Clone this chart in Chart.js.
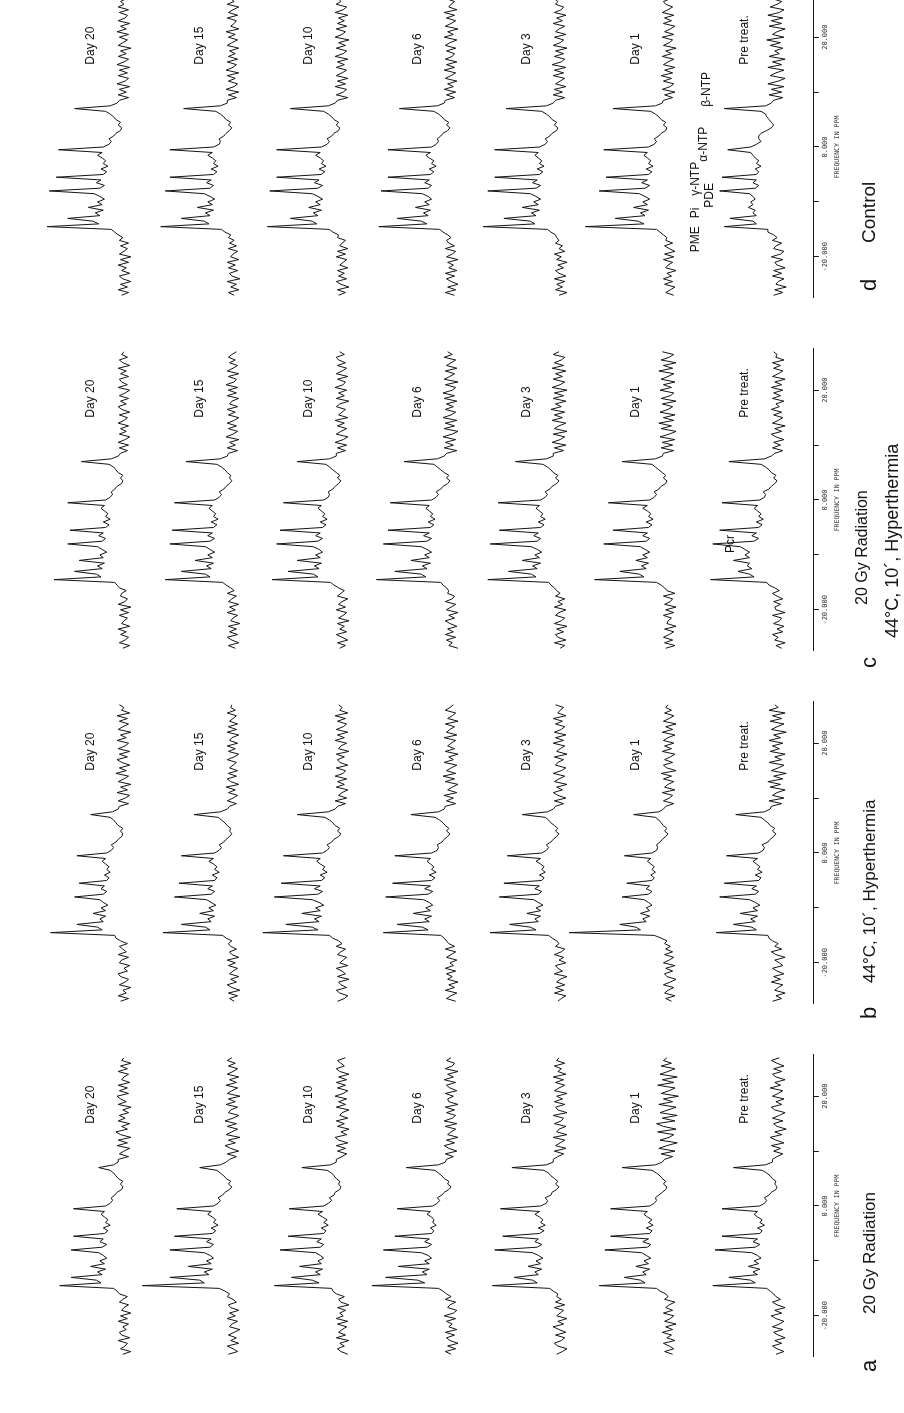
<!DOCTYPE html>
<html>
<head>
<meta charset="utf-8">
<title>31P spectra</title>
<script src="https://cdn.jsdelivr.net/npm/chart.js@4.4.1/dist/chart.umd.min.js"></script>
<style>
  html, body { margin: 0; padding: 0; background: #fff; width: 904px; height: 1413px; overflow: hidden; }
  /* the figure is laid out landscape and turned a quarter left, like the printed page */
  #sheet { position: absolute; left: 0; top: 0; width: 1413px; height: 904px;
           transform-origin: 0 0; transform: translate(0, 1413px) rotate(-90deg); }
  #sheet canvas { position: absolute; top: 0; }
</style>
</head>
<body>
<div id="sheet">
  <canvas id="panelA" width="360" height="904" style="left:27px"></canvas>
  <canvas id="panelB" width="360" height="904" style="left:380px"></canvas>
  <canvas id="panelC" width="360" height="904" style="left:733px"></canvas>
  <canvas id="panelD" width="360" height="904" style="left:1086px"></canvas>
</div>
<script>
// ── 31P MR spectra, four treatment groups, seven time points each ──────────
// Each spectrum: 24 baseline points (-27..-15.5), 47 points over the peaks
// (-15..8), 38 baseline points (8.5..27), all at 0.5 ppm.

const ppm = [-27,-26.5,-26,-25.5,-25,-24.5,-24,-23.5,-23,-22.5,-22,-21.5,-21,-20.5,-20,-19.5,-19,-18.5,-18,-17.5,-17,-16.5,-16,-15.5,
  -15,-14.5,-14,-13.5,-13,-12.5,-12,-11.5,-11,-10.5,-10,-9.5,-9,-8.5,-8,-7.5,-7,-6.5,-6,-5.5,-5,-4.5,-4,-3.5,-3,-2.5,-2,-1.5,-1,-0.5,
  0,0.5,1,1.5,2,2.5,3,3.5,4,4.5,5,5.5,6,6.5,7,7.5,8,
  8.5,9,9.5,10,10.5,11,11.5,12,12.5,13,13.5,14,14.5,15,15.5,16,16.5,17,17.5,18,18.5,19,19.5,20,20.5,21,21.5,22,22.5,23,23.5,24,24.5,25,25.5,26,26.5,27];
const tickValues = [-20, -10, 0, 10, 20];
const tickLabels = ['-20.000', '', '0.000', '', '20.000'];
const days = ['Pre treat.', 'Day 1', 'Day 3', 'Day 6', 'Day 10', 'Day 15', 'Day 20'];

// a — 20 Gy radiation
const aPre = [3,-4,2,6,-2,4,-5,1,5,-3,6,0,-4,3,7,-2,4,-5,2,6,-1,3,5,8,
  11,58,21,25,44,19,23,17,27,18,22,16,19,24,56,21,17,23,19,50,17,15,19,13,17,15,19,22,19,50,17,13,11,13,9,7,3,2,4,3,6,8,11,15,40,12,6,
  6,2,-3,5,-1,7,-4,3,8,-2,4,-6,2,5,-3,6,0,-5,4,7,-2,3,-4,6,1,-3,8,-1,4,-5,3,6,-2,5,-4,2,7,0];
const aDay1 = [-2,5,-3,1,6,-4,3,-1,7,-2,4,-5,5,0,-3,6,-2,4,1,-4,5,2,4,9,
  12,62,22,26,40,21,24,18,30,19,23,17,21,25,57,20,17,24,19,52,18,16,21,15,19,16,20,23,20,52,18,14,12,13,10,7,4,3,6,4,7,9,12,16,42,13,7,
  5,-2,8,-4,10,3,-6,9,1,-3,11,-5,6,12,-4,7,-6,9,2,-5,10,-2,6,-7,8,1,-4,11,-3,7,-6,9,2,-4,8,-1,6,3];
const aDay3 = [4,-1,-5,3,6,0,-3,5,-4,2,7,-2,3,-5,4,1,-2,6,-3,5,0,4,3,7,
  10,60,21,25,41,20,23,17,29,18,22,16,20,25,58,21,17,23,20,51,19,15,20,14,18,16,19,23,19,53,18,13,12,14,9,8,4,2,5,3,6,9,11,15,43,13,7,
  7,3,-2,6,-4,5,1,-3,7,-5,4,2,-4,6,0,-2,7,-5,3,5,-3,6,-1,4,-5,6,2,-3,5,-2,7,-4,3,0,6,-3,4,2];
const aDay6 = [1,6,-3,4,-5,2,5,-2,6,-4,3,0,5,-3,7,-1,-4,4,2,-3,6,1,5,8,
  12,70,24,30,58,22,26,20,47,20,24,18,21,27,60,22,18,24,20,50,18,16,19,14,17,16,18,22,19,48,17,13,11,13,9,7,3,1,4,3,7,9,12,15,40,12,6,
  5,-1,6,-4,3,7,-2,5,-5,4,1,-3,6,-4,7,0,-3,5,-2,6,-5,3,4,-1,6,-4,2,5,-3,7,-1,4,-5,6,0,-2,5,1];
const aDay10 = [-4,2,5,-1,3,-5,6,-2,4,1,-3,5,-4,6,0,3,-2,5,-5,2,4,-1,6,9,
  10,60,21,27,45,20,24,18,38,19,22,17,20,24,55,20,17,23,19,48,17,15,19,13,17,14,18,22,18,47,17,13,10,12,8,7,3,2,4,3,6,8,10,14,36,11,6,
  6,1,-3,5,-2,6,-4,4,7,-3,2,-5,5,-1,6,-4,3,1,-5,6,-2,4,-3,7,0,-4,5,-2,6,-3,4,-5,3,6,-1,2,5,-2];
const aDay15 = [5,-3,1,6,-4,3,-2,5,0,-5,4,2,-3,6,-1,4,-4,3,5,-2,1,6,4,8,
  13,80,26,30,56,22,26,19,40,20,24,18,21,26,56,21,18,24,20,52,19,16,20,14,18,16,19,23,20,50,18,14,12,14,10,8,4,2,5,3,7,9,12,15,30,12,7,
  4,-2,6,-4,3,8,-1,5,-5,7,2,-3,6,-2,8,1,-4,5,3,-3,7,-1,5,-5,6,2,-3,7,-2,4,-4,6,1,-3,5,-1,6,2];
const aDay20 = [2,-5,4,0,-2,6,-4,3,5,-1,2,-3,6,-2,4,-5,3,1,-3,5,2,-2,5,7,
  10,57,21,25,47,20,24,17,30,18,22,16,19,23,47,20,16,22,19,45,18,15,19,13,17,15,18,21,18,45,17,13,11,12,9,7,3,2,4,2,6,8,10,13,23,10,6,
  6,-3,5,1,-4,7,-2,6,-5,4,8,-2,3,-4,6,0,5,-3,2,-5,6,-1,4,7,-3,5,-2,6,-4,3,1,-3,6,-2,4,-5,3,1];

// b — 44 °C, 10 min hyperthermia
const bPre = [6,-2,3,-5,4,1,-3,7,-1,5,-4,2,6,-3,0,4,-5,3,7,-2,4,1,6,9,
  10,55,20,24,40,21,25,19,34,19,23,17,21,26,52,21,18,24,20,48,18,16,21,15,19,17,20,23,19,46,18,14,13,15,10,8,5,3,6,4,8,10,13,16,38,13,8,
  7,-2,9,-4,6,2,-5,8,-1,10,-3,5,-6,7,1,-4,9,-2,4,-5,8,0,6,-3,9,-1,5,-6,7,2,-4,8,-2,6,-5,9,1,4];
const bDay1 = [-1,4,-4,5,2,-3,6,0,-5,3,5,-2,4,-4,6,1,-3,5,-2,4,0,5,3,8,
  14,88,26,30,44,21,24,18,26,18,21,16,19,23,42,19,16,21,18,38,16,14,17,13,16,14,17,20,17,40,16,12,11,12,9,7,4,2,5,3,6,8,10,13,32,10,6,
  4,-3,6,1,-2,7,-4,5,2,-3,6,-1,8,-5,3,6,-2,5,0,-4,7,-1,5,-3,6,2,-4,7,-2,4,-5,6,1,-3,5,-1,4,2];
const bDay3 = [3,0,-4,6,-2,5,-3,4,1,-5,6,-1,3,5,-4,2,-2,6,0,-3,5,2,4,8,
  11,62,22,27,45,20,23,18,30,18,22,16,20,24,54,20,17,23,19,50,17,15,19,14,17,15,18,22,18,47,17,13,11,13,9,7,4,2,5,3,6,9,11,14,34,12,7,
  5,-2,6,-4,3,7,-1,4,-5,6,2,-3,7,0,-4,5,3,-2,6,-5,4,1,-3,7,-2,5,-4,6,0,-3,5,-1,7,-4,3,1,-2,5];
const bDay6 = [-3,5,1,-4,6,-2,3,-5,4,0,5,-3,6,-1,2,-4,5,1,-3,6,-2,3,5,7,
  10,60,21,26,48,20,24,18,34,19,23,17,20,25,58,21,17,24,19,52,18,15,20,14,18,16,19,22,19,50,18,13,12,13,9,7,4,2,5,3,6,8,11,15,36,12,7,
  6,-3,5,-1,7,-4,4,0,-5,6,-2,8,-3,5,1,-4,7,-1,3,-5,6,-2,4,1,-3,7,-4,5,2,-2,6,-5,4,0,-3,6,2,-1];
const bDay10 = [5,-1,-4,3,6,-3,2,4,-5,5,-2,1,6,-4,3,0,-3,5,2,-2,6,1,4,9,
  12,70,22,27,50,21,25,19,36,20,24,17,21,27,60,22,18,25,20,54,19,16,20,14,18,16,20,23,20,52,18,14,12,14,10,8,4,2,5,3,7,9,12,16,40,13,7,
  5,-2,7,-3,4,1,-4,6,-1,5,-3,7,0,-2,6,-4,3,5,-1,6,-5,4,2,-3,7,-1,5,-4,6,0,-3,5,-2,7,-4,3,1,4];
const bDay15 = [0,4,-3,5,-5,2,6,-2,3,-4,4,1,-3,5,-1,6,-4,2,4,-2,3,5,2,7,
  10,62,21,25,46,20,23,17,30,18,22,16,20,24,52,20,17,23,19,48,17,15,19,13,17,15,18,22,18,46,17,13,11,13,9,7,4,2,4,3,6,8,11,14,35,12,6,
  4,-2,6,1,-3,5,-1,7,-4,3,6,-2,5,-3,4,1,-2,6,0,-4,5,-1,6,-3,4,2,-4,6,-2,5,-3,4,1,-2,6,-1,3,2];
const bDay20 = [4,-3,6,-1,2,-5,5,0,-3,4,6,-2,1,-4,5,3,-3,6,-1,2,5,-2,4,8,
  9,65,20,24,42,19,22,17,28,17,21,15,19,22,44,19,16,21,18,40,16,14,18,13,16,14,17,20,17,42,16,12,10,12,8,6,3,2,4,2,6,8,10,13,30,11,6,
  5,-3,6,0,-4,7,-2,4,-5,6,1,-3,8,-1,5,-4,3,7,-2,5,-4,6,0,-3,7,-1,4,-5,6,2,-3,5,-2,7,-4,3,1,5];

// c — 20 Gy radiation + 44 °C, 10 min hyperthermia
const cPre = [-2,3,-5,4,1,6,-3,2,-4,5,0,-2,6,-5,3,4,-1,5,-3,2,6,0,4,9,
  11,60,22,26,36,24,28,26,40,26,30,26,30,34,58,22,18,24,20,52,18,15,20,14,18,16,19,22,19,50,17,13,12,14,9,7,4,2,5,3,7,9,12,16,44,13,7,
  4,-3,6,-1,5,-4,3,7,-2,4,-5,6,1,-3,5,-2,7,0,3,-4,6,-1,5,-3,7,-2,4,-5,6,1,-3,5,-1,6,-4,3,2,5];
const cDay1 = [4,-4,5,-2,6,1,-3,5,-5,3,2,-1,6,-3,4,-5,5,0,-2,6,-4,3,5,8,
  12,66,23,27,44,21,25,19,30,20,24,18,22,26,58,21,18,24,20,50,19,16,21,15,19,17,20,24,20,54,18,14,12,14,10,8,4,3,6,4,7,10,13,16,42,13,7,
  6,-3,8,-2,7,-4,9,1,-5,8,-1,10,-3,6,-4,9,2,-2,7,-5,8,0,-3,9,-1,6,-4,8,2,-3,10,-2,6,-5,8,1,-3,7];
const cDay3 = [1,-3,6,-4,3,5,-2,4,-5,6,0,-3,5,2,-4,6,-1,3,-3,5,1,4,6,9,
  11,64,22,26,46,21,25,18,34,19,23,17,21,26,62,21,18,24,20,54,18,15,20,14,18,16,19,22,19,55,18,14,12,14,10,8,4,2,5,3,7,9,12,16,40,13,7,
  7,-2,6,-4,8,1,-3,7,-5,6,2,-4,8,-1,6,-3,9,0,5,-4,7,-2,6,-5,8,1,-3,7,-1,5,-4,8,-2,6,0,-3,7,2];
const cDay6 = [-5,3,0,5,-3,6,-1,4,-4,2,6,-2,3,-5,5,1,-3,6,0,-2,4,3,5,8,
  10,66,23,27,50,22,26,19,36,20,24,18,22,27,60,22,18,25,20,56,19,16,21,15,19,17,20,23,20,54,18,14,12,14,10,8,4,2,5,3,7,10,13,16,42,13,7,
  5,-4,7,-1,6,-3,8,0,-5,7,-2,6,-4,8,1,-3,6,-1,5,-4,7,-2,8,0,-3,6,-5,7,2,-2,6,-4,5,1,-3,7,0,4];
const cDay10 = [3,-2,5,-4,1,6,-3,3,-1,5,-5,4,0,-3,6,-2,4,1,-4,5,2,-1,4,8,
  11,62,22,26,48,21,25,19,40,20,24,18,21,26,58,22,18,24,20,55,18,15,20,14,18,16,19,22,19,52,17,13,12,13,9,7,4,2,5,3,6,9,12,15,40,12,6,
  6,-2,5,-3,7,0,-4,6,2,-3,5,-1,7,-4,4,1,-2,6,3,-5,6,-1,4,-3,7,0,-2,5,-4,6,1,-3,5,-2,4,6,-1,3];
const cDay15 = [-1,5,-4,2,6,-3,4,-2,5,-5,3,1,-3,6,-1,4,-4,5,2,-2,6,0,3,7,
  10,60,21,25,46,20,24,18,34,19,23,17,21,25,56,21,17,23,19,54,18,15,20,14,18,16,19,22,19,52,17,13,11,13,9,7,4,2,4,3,6,8,11,15,42,12,6,
  5,-3,6,-1,4,-4,7,1,-3,5,-2,6,0,-4,5,-1,6,-3,4,2,-4,6,-2,5,-3,7,0,-2,5,-4,6,1,-3,4,-1,5,2,-2];
const cDay20 = [2,-4,5,0,-3,4,-1,6,-4,3,1,-2,5,-3,4,-5,6,0,-2,4,3,-1,5,7,
  9,62,21,25,44,20,24,18,40,19,22,16,20,24,50,20,17,23,19,48,17,14,19,13,17,15,18,21,18,50,17,13,11,12,9,7,3,2,4,2,6,8,10,14,38,12,6,
  4,-2,5,-3,6,0,-4,5,-1,4,-3,6,1,-2,5,-4,3,6,-1,4,-3,5,0,-4,6,-2,3,5,-3,4,-1,6,-4,2,5,-2,3,1];

// d — control
const dPre = [5,-3,4,-6,3,1,-4,6,-2,5,-5,2,4,-3,7,-1,-4,5,3,-2,6,2,5,10,
  10,48,20,23,43,20,23,21,27,23,25,21,23,26,52,21,18,23,20,50,20,18,21,16,20,18,21,23,25,45,25,20,16,18,18,16,11,7,5,7,9,11,12,16,48,12,7,
  5,-3,9,-2,7,-4,10,1,-5,8,3,-4,10,-2,6,-5,9,0,4,-3,8,-1,11,-4,6,2,-5,9,-2,7,-3,10,0,-4,8,2,-2,6];
const dDay1 = [-3,4,0,-4,5,-2,6,-1,3,-5,4,2,-2,6,-3,5,-4,1,5,-2,4,3,6,9,
  12,74,23,28,48,22,26,19,32,20,24,18,22,27,62,22,18,25,20,56,19,16,21,15,19,17,20,23,20,58,19,14,12,14,10,8,4,3,6,4,8,10,13,17,50,13,7,
  6,-2,5,-4,7,0,-3,6,-1,8,-2,5,-4,6,2,-3,7,-1,4,-5,6,1,-2,7,-3,5,0,-4,6,-1,5,-3,7,2,-2,4,6,0];
const dDay3 = [2,-5,5,-1,4,-3,6,-4,2,5,-2,3,-5,4,0,6,-3,2,-1,5,2,4,5,9,
  12,68,23,27,50,22,26,19,34,20,24,18,22,27,64,22,18,25,21,58,19,16,21,15,19,17,20,23,20,58,19,14,12,14,10,8,4,3,6,4,8,10,13,17,48,13,7,
  5,-3,7,-1,6,-4,5,1,-3,7,-2,6,-4,8,0,-3,6,-2,5,-5,7,1,-2,6,-4,5,2,-3,7,-1,4,-4,6,0,-2,5,3,6];
const dDay6 = [-2,6,-3,4,-5,1,5,-2,6,-4,3,-1,4,-5,5,0,-3,6,-2,3,5,1,4,8,
  11,64,22,27,48,21,25,19,32,20,24,18,21,26,62,21,18,24,20,56,19,16,20,14,18,16,20,23,19,56,18,14,12,13,10,8,4,2,5,3,7,9,12,16,46,13,7,
  6,-2,5,-3,7,-1,4,-4,6,1,-3,7,-2,5,-4,6,0,-2,5,-3,6,2,-4,7,-1,4,-5,6,1,-3,5,-2,7,-4,3,1,-2,5];
const dDay10 = [4,-2,5,-5,2,6,-3,4,-1,5,-4,3,0,-3,6,-2,5,-4,3,1,-2,5,4,9,
  12,66,23,27,46,22,26,19,30,20,24,18,22,27,64,22,18,25,21,58,19,16,21,15,19,17,20,24,20,58,19,14,12,14,10,8,4,3,6,4,8,10,13,17,46,13,7,
  5,-4,6,0,-3,7,-2,5,-4,6,1,-3,6,-1,5,-4,7,0,-3,6,-2,4,-5,7,1,-2,6,-3,5,-1,4,-4,7,0,-3,6,2,4];
const dDay15 = [0,5,-4,3,-2,6,-5,2,4,-3,5,-1,6,-4,3,1,-3,5,-2,4,0,5,3,8,
  11,64,22,26,46,21,25,18,32,19,23,17,21,26,60,21,18,24,20,56,18,15,20,14,18,16,19,23,19,56,18,13,12,13,9,7,4,2,5,3,7,9,12,16,44,12,6,
  6,-2,5,-4,7,0,-3,5,-1,6,-4,7,1,-2,6,-3,5,-1,4,-4,6,2,-3,5,-1,7,-4,3,0,-2,6,-3,5,1,-4,6,0,3];
const dDay20 = [3,-3,6,-2,4,-5,2,5,-4,3,-1,6,-3,4,-5,5,1,-2,4,-3,5,2,6,9,
  12,68,23,28,50,22,26,19,32,20,24,18,22,27,66,22,18,25,21,60,19,16,21,15,19,17,20,24,20,58,19,14,12,14,10,8,4,3,6,4,8,10,13,17,44,13,7,
  5,-3,6,-1,5,-4,7,0,-3,6,-2,5,-4,7,1,-3,6,-1,4,-5,6,2,-2,5,-3,7,-1,4,-4,6,0,-2,5,-3,6,1,4,-1];

// resonance names written over the control pre-treatment spectrum
const peakNames = ['PME', 'Pi', 'PDE', 'γ-NTP', 'α-NTP', 'β-NTP'];
const peakNamePpm = [-16.8, -12, -8.8, -5.8, 0.5, 10.5];
const peakNameLift = [73, 73, 61, 73, 66, 63];

const STACK = 95;           // vertical step between successive spectra, in intensity units
const INK = '#141414';
const SANS = '"Liberation Sans", Arial, sans-serif';

const spectrumText = {
  id: 'spectrumText',
  afterDatasetsDraw(chart, args, opts) {
    const { ctx, scales: { x, y } } = chart;
    ctx.save();
    ctx.fillStyle = INK;
    ctx.textBaseline = 'middle';
    ctx.font = '12px ' + SANS;
    days.forEach((d, i) => {
      ctx.fillText(d, x.getPixelForValue(15), y.getPixelForValue(i * STACK + 30));
    });
    ctx.textAlign = 'center';
    (opts.marks || []).forEach(m => {
      ctx.fillText(m.text, x.getPixelForValue(m.ppm), y.getPixelForValue(m.lift));
    });
    // panel letter and treatment
    ctx.textAlign = 'left';
    ctx.font = '22px ' + SANS;
    ctx.fillText(opts.letter, opts.letterX, 870);
    opts.titles.forEach(t => {
      ctx.font = t.size + 'px ' + SANS;
      ctx.fillText(t.text, t.x, t.y);
    });
    ctx.restore();
  }
};

function drawPanel(id, series, textOpts) {
  new Chart(document.getElementById(id), {
    type: 'line',
    data: {
      datasets: series.map((vals, i) => ({
        data: vals.map((v, k) => ({ x: ppm[k], y: v + i * STACK })),
        borderColor: INK,
        borderWidth: 1,
        pointRadius: 0,
        tension: 0,
        fill: false,
      }))
    },
    options: {
      responsive: false, animation: false,
      layout: { padding: { left: 29, right: 29, top: 0, bottom: 63 } },
      plugins: {
        legend: { display: false },
        tooltip: { enabled: false },
        spectrumText: textOpts,
      },
      scales: {
        x: {
          type: 'linear', min: -27.5, max: 27.5,
          afterBuildTicks: axis => { axis.ticks = tickValues.map(v => ({ value: v })); },
          ticks: {
            autoSkip: false, maxRotation: 0, padding: 2, color: '#333',
            font: { family: '"DejaVu Sans Mono", monospace', size: 7 },
            callback: v => tickLabels[tickValues.indexOf(v)],
          },
          grid: { display: true, drawOnChartArea: false, drawTicks: true, tickLength: 5, color: INK },
          border: { display: true, color: INK, width: 1 },
          title: {
            display: true, text: 'FREQUENCY IN PPM', color: '#333',
            font: { family: '"DejaVu Sans Mono", monospace', size: 6.5 },
            padding: { top: 2, bottom: 0 },
          },
        },
        y: { display: false, min: -30, max: 679 },
      }
    },
    plugins: [spectrumText]
  });
}

drawPanel('panelA', [aPre, aDay1, aDay3, aDay6, aDay10, aDay15, aDay20], {
  letter: 'a', letterX: 14,
  titles: [{ text: '20 Gy Radiation', x: 72, y: 870, size: 17 }],
});
drawPanel('panelB', [bPre, bDay1, bDay3, bDay6, bDay10, bDay15, bDay20], {
  letter: 'b', letterX: 14,
  titles: [{ text: '44°C, 10´, Hyperthermia', x: 50, y: 870, size: 17 }],
});
drawPanel('panelC', [cPre, cDay1, cDay3, cDay6, cDay10, cDay15, cDay20], {
  letter: 'c', letterX: 12,
  titles: [{ text: '20 Gy Radiation', x: 75, y: 863, size: 16 },
           { text: '44°C, 10´, Hyperthermia', x: 42, y: 893, size: 18 }],
  marks: [{ text: 'Pcr', ppm: -8, lift: 42 }],
});
drawPanel('panelD', [dPre, dDay1, dDay3, dDay6, dDay10, dDay15, dDay20], {
  letter: 'd', letterX: 36,
  titles: [{ text: 'Control', x: 84, y: 870, size: 19 }],
  marks: peakNames.map((t, i) => ({ text: t, ppm: peakNamePpm[i], lift: peakNameLift[i] })),
});
</script>
</body>
</html>
